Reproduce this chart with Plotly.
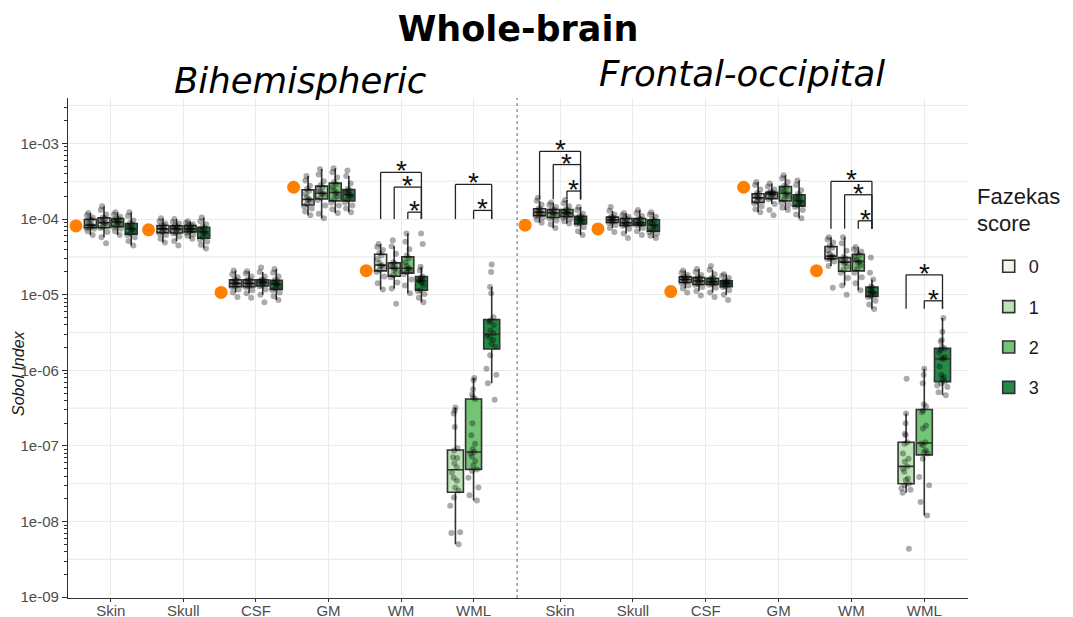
import numpy as np
import plotly.graph_objects as go

categories = ["Skin", "Skull", "CSF", "GM", "WM", "WML"]
score_labels = ["0", "1", "2", "3"]
score_colors = ["#EDF8E9", "#BAE4B3", "#74C476", "#238B45"]
panel_titles = ["Bihemispheric", "Frontal-occipital"]
y_tick_values = [1e-9, 1e-8, 1e-7, 1e-6, 1e-5, 1e-4, 1e-3]
y_tick_text = ["1e-09", "1e-08", "1e-07", "1e-06", "1e-05", "1e-04", "1e-03"]

# Sobol index of the lesion-free reference model (orange dots), per tissue
bi_reference = [8.1e-05, 7.2e-05, 1.07e-05, 2.63e-04, 2.07e-05, None]
fo_reference = [8.3e-05, 7.4e-05, 1.10e-05, 2.63e-04, 2.07e-05, None]

# log10(Sobol index) per subject, one list per Fazekas score (0..3)
bi_skin = [
    [-3.92, -3.95, -3.98, -4.00, -4.01, -4.04, -4.06, -4.08, -4.08, -4.10, -4.11, -4.12, -4.13, -4.16, -4.21],
    [-3.83, -3.88, -3.94, -3.98, -3.99, -4.02, -4.04, -4.05, -4.06, -4.09, -4.11, -4.12, -4.17, -4.24, -4.32],
    [-3.91, -3.94, -3.97, -3.99, -4.00, -4.02, -4.03, -4.04, -4.05, -4.07, -4.09, -4.11, -4.13, -4.16, -4.21],
    [-3.91, -3.96, -4.02, -4.05, -4.07, -4.09, -4.11, -4.13, -4.14, -4.16, -4.19, -4.21, -4.24, -4.29, -4.35],
]
bi_skull = [
    [-3.99, -4.03, -4.06, -4.08, -4.09, -4.11, -4.12, -4.13, -4.14, -4.15, -4.17, -4.19, -4.21, -4.26, -4.31],
    [-4.00, -4.04, -4.06, -4.08, -4.10, -4.11, -4.12, -4.13, -4.14, -4.16, -4.18, -4.19, -4.23, -4.29, -4.35],
    [-4.03, -4.05, -4.07, -4.08, -4.09, -4.11, -4.12, -4.13, -4.14, -4.15, -4.16, -4.18, -4.20, -4.22, -4.26],
    [-3.98, -4.03, -4.07, -4.10, -4.12, -4.14, -4.16, -4.17, -4.19, -4.21, -4.24, -4.27, -4.30, -4.34, -4.39],
]
bi_csf = [
    [-4.68, -4.73, -4.77, -4.80, -4.81, -4.83, -4.84, -4.85, -4.86, -4.87, -4.89, -4.90, -4.93, -4.97, -5.03],
    [-4.69, -4.72, -4.76, -4.80, -4.81, -4.82, -4.84, -4.85, -4.86, -4.88, -4.89, -4.90, -4.94, -4.98, -5.04],
    [-4.64, -4.70, -4.76, -4.80, -4.81, -4.82, -4.83, -4.84, -4.85, -4.86, -4.88, -4.89, -4.93, -5.00, -5.10],
    [-4.66, -4.71, -4.76, -4.80, -4.82, -4.84, -4.85, -4.86, -4.88, -4.90, -4.92, -4.94, -4.97, -5.02, -5.07],
]
bi_gm = [
    [-3.43, -3.49, -3.56, -3.60, -3.63, -3.67, -3.71, -3.74, -3.75, -3.77, -3.80, -3.83, -3.86, -3.90, -3.95],
    [-3.34, -3.41, -3.50, -3.55, -3.58, -3.61, -3.64, -3.66, -3.67, -3.69, -3.72, -3.75, -3.82, -3.93, -3.99],
    [-3.33, -3.38, -3.45, -3.51, -3.54, -3.58, -3.62, -3.65, -3.67, -3.70, -3.74, -3.78, -3.82, -3.87, -3.92],
    [-3.36, -3.43, -3.53, -3.60, -3.62, -3.64, -3.66, -3.68, -3.69, -3.71, -3.74, -3.78, -3.82, -3.86, -3.91],
]
bi_wm = [
    [-4.33, -4.37, -4.41, -4.45, -4.48, -4.53, -4.58, -4.61, -4.62, -4.64, -4.67, -4.70, -4.76, -4.85, -4.93],
    [-4.28, -4.36, -4.46, -4.57, -4.59, -4.61, -4.63, -4.65, -4.67, -4.70, -4.74, -4.77, -4.84, -4.92, -5.12],
    [-4.19, -4.30, -4.40, -4.48, -4.52, -4.57, -4.62, -4.65, -4.66, -4.68, -4.70, -4.73, -4.80, -4.88, -4.98],
    [-4.19, -4.33, -4.63, -4.68, -4.76, -4.78, -4.79, -4.81, -4.82, -4.83, -4.85, -4.88, -4.94, -4.95, -4.99, -5.04, -5.10],
]
bi_wml = [
    None,
    [-6.49, -6.53, -6.57, -6.75, -7.03, -7.06, -7.15, -7.16, -7.23, -7.28, -7.35, -7.42, -7.46, -7.55, -7.59, -7.68, -7.79, -8.14, -8.15, -8.30],
    [-6.10, -6.13, -6.25, -6.32, -6.36, -6.38, -6.70, -6.86, -6.97, -7.04, -7.08, -7.10, -7.14, -7.20, -7.26, -7.31, -7.33, -7.42, -7.55, -7.65, -7.72],
    [-4.60, -4.70, -4.90, -4.98, -5.30, -5.34, -5.36, -5.40, -5.47, -5.51, -5.54, -5.57, -5.60, -5.65, -5.69, -5.80, -5.98, -6.06, -6.17, -6.39],
]

fo_skin = [
    [-3.72, -3.76, -3.81, -3.86, -3.87, -3.89, -3.90, -3.91, -3.92, -3.93, -3.95, -3.96, -3.98, -4.01, -4.05],
    [-3.78, -3.81, -3.84, -3.87, -3.88, -3.90, -3.91, -3.92, -3.93, -3.95, -3.97, -3.99, -4.02, -4.07, -4.12],
    [-3.75, -3.79, -3.83, -3.87, -3.88, -3.90, -3.91, -3.92, -3.93, -3.94, -3.96, -3.98, -4.00, -4.03, -4.06],
    [-3.84, -3.88, -3.93, -3.96, -3.97, -3.99, -4.00, -4.01, -4.02, -4.04, -4.06, -4.07, -4.11, -4.16, -4.21],
]
fo_skull = [
    [-3.84, -3.89, -3.94, -3.97, -3.98, -3.99, -4.00, -4.01, -4.02, -4.03, -4.04, -4.05, -4.08, -4.12, -4.17],
    [-3.92, -3.95, -3.97, -3.99, -4.00, -4.02, -4.04, -4.05, -4.06, -4.07, -4.08, -4.09, -4.13, -4.19, -4.25],
    [-3.88, -3.92, -3.96, -3.99, -4.00, -4.02, -4.04, -4.05, -4.06, -4.07, -4.08, -4.08, -4.12, -4.16, -4.21],
    [-3.91, -3.94, -3.97, -4.00, -4.02, -4.04, -4.06, -4.08, -4.10, -4.12, -4.15, -4.17, -4.19, -4.22, -4.25],
]
fo_csf = [
    [-4.68, -4.71, -4.74, -4.76, -4.77, -4.78, -4.79, -4.80, -4.81, -4.82, -4.83, -4.85, -4.88, -4.92, -4.97],
    [-4.66, -4.70, -4.74, -4.77, -4.78, -4.79, -4.81, -4.82, -4.83, -4.84, -4.86, -4.87, -4.90, -4.95, -5.01],
    [-4.62, -4.67, -4.73, -4.78, -4.79, -4.80, -4.82, -4.83, -4.84, -4.85, -4.86, -4.87, -4.91, -4.97, -5.03],
    [-4.73, -4.75, -4.78, -4.81, -4.82, -4.83, -4.84, -4.85, -4.86, -4.87, -4.89, -4.90, -4.94, -5.00, -5.07],
]
fo_gm = [
    [-3.51, -3.55, -3.61, -3.66, -3.67, -3.69, -3.71, -3.72, -3.73, -3.75, -3.77, -3.79, -3.83, -3.87, -3.91],
    [-3.53, -3.57, -3.61, -3.64, -3.65, -3.66, -3.66, -3.67, -3.68, -3.70, -3.72, -3.74, -3.80, -3.88, -3.95],
    [-3.42, -3.46, -3.51, -3.56, -3.58, -3.61, -3.64, -3.66, -3.68, -3.70, -3.74, -3.78, -3.81, -3.85, -3.88],
    [-3.49, -3.55, -3.62, -3.67, -3.69, -3.72, -3.74, -3.76, -3.78, -3.80, -3.82, -3.84, -3.88, -3.94, -3.99],
]
fo_wm = [
    [-4.24, -4.27, -4.31, -4.35, -4.38, -4.42, -4.46, -4.49, -4.50, -4.51, -4.52, -4.53, -4.56, -4.62, -4.91],
    [-4.24, -4.32, -4.42, -4.50, -4.52, -4.54, -4.56, -4.57, -4.59, -4.63, -4.67, -4.71, -4.78, -4.88, -5.00],
    [-4.37, -4.40, -4.43, -4.45, -4.48, -4.51, -4.54, -4.56, -4.58, -4.61, -4.66, -4.71, -4.77, -4.85, -4.94],
    [-4.51, -4.71, -4.80, -4.89, -4.91, -4.93, -4.95, -4.97, -4.98, -5.00, -5.02, -5.03, -5.08, -5.13, -5.19],
]
fo_wml = [
    None,
    [-6.11, -6.57, -6.70, -6.84, -6.86, -6.95, -6.97, -7.10, -7.17, -7.21, -7.27, -7.30, -7.34, -7.43, -7.45, -7.50, -7.52, -7.56, -7.58, -7.62, -8.36],
    [-5.98, -6.06, -6.17, -6.45, -6.48, -6.53, -6.55, -6.73, -6.77, -6.95, -6.97, -6.99, -7.06, -7.08, -7.10, -7.17, -7.41, -7.52, -7.74, -7.92],
    [-5.31, -5.49, -5.60, -5.62, -5.69, -5.71, -5.73, -5.76, -5.82, -5.84, -5.85, -5.95, -6.06, -6.09, -6.11, -6.15, -6.17, -6.20, -6.22, -6.29, -6.33],
]

# significant pairwise comparisons: (category, score a, score b, log10 bracket top, log10 leg bottom)
bi_signif = [
    ("WM", 0, 3, -3.384, -4.0), ("WM", 1, 3, -3.578, -4.0), ("WM", 2, 3, -3.909, -4.0),
    ("WML", 1, 3, -3.542, -4.0), ("WML", 2, 3, -3.886, -4.0),
]
fo_signif = [
    ("Skin", 0, 3, -3.106, -3.74), ("Skin", 1, 3, -3.28, -3.74), ("Skin", 2, 3, -3.63, -3.74),
    ("WM", 0, 3, -3.503, -4.128), ("WM", 1, 3, -3.679, -4.128), ("WM", 2, 3, -4.023, -4.128),
    ("WML", 1, 3, -4.737, -5.187), ("WML", 2, 3, -5.081, -5.187),
]

panels = [
    dict(data=[bi_skin, bi_skull, bi_csf, bi_gm, bi_wm, bi_wml], ref=bi_reference, sig=bi_signif, xa="x", ya="y"),
    dict(data=[fo_skin, fo_skull, fo_csf, fo_gm, fo_wm, fo_wml], ref=fo_reference, sig=fo_signif, xa="x2", ya="y2"),
]

DODGE = 0.75
fig = go.Figure()
legend_done = set()


def box_pos(groups, ci, s):
    present = [k for k in range(4) if groups[k] is not None]
    n = len(present)
    step = DODGE / n
    j = present.index(s)
    return ci + (j - (n - 1) / 2) * step, step


for panel in panels:
    for ci, cat in enumerate(categories):
        groups = panel["data"][ci]
        for s in range(4):
            if groups[s] is None:
                continue
            vals = np.array(groups[s], dtype=float)
            q1, med, q3 = np.percentile(vals, [25, 50, 75])
            iqr = q3 - q1
            lf = vals[vals >= q1 - 1.5 * iqr].min()
            uf = vals[vals <= q3 + 1.5 * iqr].max()
            pos, step = box_pos(groups, ci, s)
            show = s not in legend_done
            legend_done.add(s)
            fig.add_trace(go.Box(
                x=[pos], y=[list(10 ** vals)],
                q1=[10 ** q1], median=[10 ** med], q3=[10 ** q3],
                lowerfence=[10 ** lf], upperfence=[10 ** uf],
                width=step * 0.88,
                name=score_labels[s], legendgroup=score_labels[s], showlegend=show,
                fillcolor=score_colors[s],
                line=dict(color="#333333", width=1.6),
                whiskerwidth=0,
                boxpoints="all", jitter=0.8, pointpos=0,
                marker=dict(color="rgba(0,0,0,0.33)", size=6, line=dict(width=0)),
                xaxis=panel["xa"], yaxis=panel["ya"],
            ))
    ref_x = [ci - 0.48 for ci, v in enumerate(panel["ref"]) if v is not None]
    ref_y = [v for v in panel["ref"] if v is not None]
    fig.add_trace(go.Scatter(
        x=ref_x, y=ref_y, mode="markers", showlegend=False,
        marker=dict(color="#FF7F00", size=13, line=dict(width=0)),
        xaxis=panel["xa"], yaxis=panel["ya"],
    ))
    # significance brackets
    for cat, a, b, top, bottom in panel["sig"]:
        ci = categories.index(cat)
        groups = panel["data"][ci]
        xa_, _ = box_pos(groups, ci, a)
        xb_, _ = box_pos(groups, ci, b)
        ln = dict(color="#222222", width=1.3)
        for (x0, y0, x1, y1) in [(xa_, bottom, xa_, top), (xa_, top, xb_, top), (xb_, top, xb_, bottom)]:
            fig.add_shape(type="line", xref=panel["xa"], yref=panel["ya"],
                          x0=x0, x1=x1, y0=10 ** y0, y1=10 ** y1, line=ln, layer="above")
        fig.add_annotation(x=(xa_ + xb_) / 2, y=top, xref=panel["xa"], yref=panel["ya"],
                           text="*", showarrow=False, xanchor="center", yanchor="bottom", yshift=-16,
                           font=dict(family="Liberation Sans, Arial", size=28, color="#111111"))

# half-decade grid lines
for k in range(-9, -2):
    fig.add_shape(type="line", xref="paper", yref="y", x0=0, x1=1,
                  y0=10 ** (k + 0.5), y1=10 ** (k + 0.5),
                  line=dict(color="#EBEBEB", width=1.1), layer="below")

# dotted separator between panels
fig.add_shape(type="line", xref="x2 domain", yref="paper", x0=0, x1=0, y0=0, y1=1,
              line=dict(color="#666666", width=1, dash="dot"), layer="above")

# panel titles
fig.add_annotation(text="<i>" + panel_titles[0] + "</i>", xref="paper", yref="paper",
                   x=0.258, y=1.034, showarrow=False, xanchor="center", yanchor="middle",
                   font=dict(family="DejaVu Sans", size=35.5, color="black"))
fig.add_annotation(text="<i>" + panel_titles[1] + "</i>", xref="paper", yref="paper",
                   x=0.749, y=1.048, showarrow=False, xanchor="center", yanchor="middle",
                   font=dict(family="DejaVu Sans", size=35.5, color="black"))
# y-axis title
fig.add_annotation(text="<i>Sobol Index</i>", xref="paper", yref="paper",
                   x=-0.0556, y=0.45, showarrow=False, textangle=-90,
                   xanchor="center", yanchor="middle",
                   font=dict(family="Liberation Sans, Arial", size=16, color="#1A1A1A"))
# legend title (two lines)
fig.add_annotation(text="Fazekas", xref="paper", yref="paper",
                   x=1.008, y=0.802, showarrow=False, xanchor="left", yanchor="middle",
                   font=dict(family="Liberation Sans, Arial", size=22, color="#1A1A1A"))
fig.add_annotation(text="score", xref="paper", yref="paper",
                   x=1.008, y=0.75, showarrow=False, xanchor="left", yanchor="middle",
                   font=dict(family="Liberation Sans, Arial", size=22, color="#1A1A1A"))

minor_vals = [m * 10.0 ** k for k in range(-9, -2) for m in range(2, 10)]

xaxis_common = dict(
    range=[-0.59, 5.6], tickmode="array", tickvals=list(range(6)), ticktext=categories,
    showgrid=True, gridcolor="#EBEBEB", gridwidth=1.1, zeroline=False,
    showline=True, linecolor="#333333", linewidth=1.2,
    ticks="outside", ticklen=3, tickcolor="#333333", automargin=False,
    ticklabelstandoff=-4,
    tickfont=dict(family="Liberation Sans, Arial", size=15, color="#4D4D4D"),
)
yaxis_common = dict(
    type="log", range=[-9.01, -2.4], tickmode="array",
    tickvals=y_tick_values, ticktext=y_tick_text, automargin=False,
    showgrid=True, gridcolor="#EBEBEB", gridwidth=1.1, zeroline=False,
)

fig.update_layout(
    width=1073, height=617,
    margin=dict(l=60, r=113, t=90, b=27, autoexpand=False),
    paper_bgcolor="white", plot_bgcolor="white",
    boxmode="overlay", hovermode=False,
    font=dict(family="Liberation Sans, Arial", color="#1A1A1A"),
    title=dict(text="<b>Whole-brain</b>", x=0.5, xref="paper", xanchor="center",
               y=1 - 21 / 617, yref="container", yanchor="middle",
               font=dict(family="DejaVu Sans", size=35, color="black")),
    legend=dict(
        x=1.023, y=0.70, xanchor="left", yanchor="top",
        font=dict(size=18, color="#1A1A1A"), tracegroupgap=14,
        bgcolor="rgba(0,0,0,0)",
    ),
    xaxis=dict(domain=[0, 0.499], anchor="y", **xaxis_common),
    xaxis2=dict(domain=[0.499, 1], anchor="y2", **xaxis_common),
    yaxis=dict(anchor="x", showline=True, linecolor="#333333", linewidth=1.2,
               ticks="outside", ticklen=5, tickcolor="#333333",
               tickfont=dict(family="Liberation Sans, Arial", size=15, color="#4D4D4D"),
               minor=dict(tickvals=minor_vals, ticks="outside", ticklen=3,
                          tickcolor="#333333", showgrid=False),
               **yaxis_common),
    yaxis2=dict(anchor="x2", matches="y", showticklabels=False, showline=False, ticks="",
                **yaxis_common),
)

fig.write_html("out.html")
